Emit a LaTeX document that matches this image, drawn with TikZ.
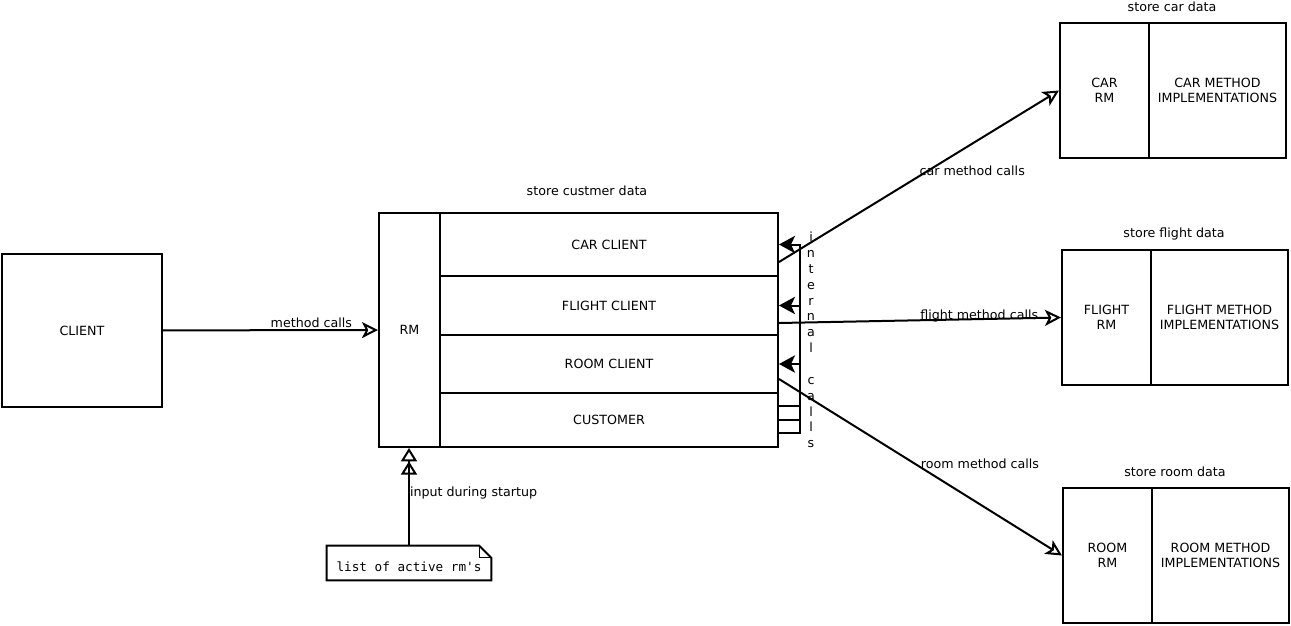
\documentclass[tikz,border=0pt]{standalone}
\usepackage{fontspec}
\setmainfont{DejaVu Sans}
\setmonofont{DejaVu Sans Mono}
\usetikzlibrary{arrows.meta}

\tikzset{
  box/.style={draw, line width=1.5pt, inner sep=0pt, anchor=north west, align=center},
  sz/.style 2 args={minimum width=#1*0.75pt, minimum height=#2*0.75pt},
  lbl/.style={inner sep=1pt},
  call/.style={line width=1.5pt, -{Stealth[open,length=12pt,width=12pt,inset=3pt]}},
  back/.style={line width=1.5pt, -{Stealth[length=12pt,width=13pt,inset=3pt]}},
  boot/.style={line width=1.5pt, -{Triangle[open,length=10pt,width=12pt]Triangle[open,length=10pt,width=12pt]}}
}

\begin{document}
\begin{tikzpicture}[x=0.75pt, y=-0.75pt, font=\fontsize{9.5}{11.6}\selectfont]
      \useasboundingbox (0,0) rectangle (1291,625);

      \node [box, sz={160}{153}] (client) at (1,253) {CLIENT};

      % customer manager
      \node [box, sz={61}{234}] (rm) at (378,212) {RM};
      \node [box, sz={338}{63}] (carcl) at (439,212) {CAR CLIENT};
      \node [box, sz={338}{59}] (flightcl) at (439,275) {FLIGHT CLIENT};
      \node [box, sz={338}{58}] (roomcl) at (439,334) {ROOM CLIENT};
      \node [box, sz={338}{54}] (cust) at (439,392) {CUSTOMER};
      \node [lbl] (custtitle) at (587,191) {store custmer data};

      % resource managers
      \foreach \nm/\NM/\x/\y in {car/CAR/1059/22, flight/FLIGHT/1061/249, room/ROOM/1062/487} {
        \node [box, sz={89}{135}] (\nm rm) at (\x,\y) {\NM\\RM};
        \node [box, sz={137}{135}] (\nm impl) at (\x+89,\y) {\NM\ METHOD\\IMPLEMENTATIONS};
        \node [lbl] (\nm title) at (\x+113,\y-15) {store \nm\ data};
      }

      \draw [call] (client) -- (rm) node [pos=0.69, above, inner sep=1pt] {method calls};
      \draw [call] ([yshift=11.25pt]carcl.south east) -- (carrm.west)
        node [pos=0.69, yshift=-20.7pt] {car method calls};
      \draw [call] ([yshift=9.75pt]flightcl.south east) -- (flightrm.west)
        node [pos=0.71, anchor=base] {flight method calls};
      \draw [call] ([yshift=-11.25pt]roomcl.east) -- (roomrm.west)
        node [pos=0.71, yshift=30.75pt] {room method calls};

      % internal calls
      \draw [back] ([yshift=-10.5pt]cust.north east) -- +(21,0) |- (roomcl.east);
      \draw [back] ([yshift=-21pt]cust.north east) -- +(21,0) |- (flightcl.east);
      \draw [back] ([yshift=-30.75pt]cust.north east) -- +(21,0) |- (carcl.east);
      \node [lbl, align=center, font=\fontsize{9.5}{11.9}\selectfont] (internal) at (811,340)
        {i\\n\\t\\e\\r\\n\\a\\l\\\mbox{}\\c\\a\\l\\l\\s};

      % note
      \node [inner sep=0pt, sz={164}{34}, font=\ttfamily\fontsize{9.5}{11.6}\selectfont] (rmlist) at (409,563)
        {\raisebox{0pt}[\dimexpr\height+6pt\relax][\depth]{list of active rm\textquotesingle s}};
      \draw [line width=1.5pt] (rmlist.north west) -- ([xshift=-9pt]rmlist.north east)
        -- ([yshift=-9pt]rmlist.north east) -- (rmlist.south east) -- (rmlist.south west) -- cycle;
      \draw [line width=1.1pt] ([xshift=-9pt]rmlist.north east) |- ([yshift=-9pt]rmlist.north east);

      \draw [boot] (rmlist.north) -- (rmlist.north |- rm.south)
        node [pos=0.54, anchor=west, inner sep=0pt] {input during startup};
\end{tikzpicture}
\end{document}
